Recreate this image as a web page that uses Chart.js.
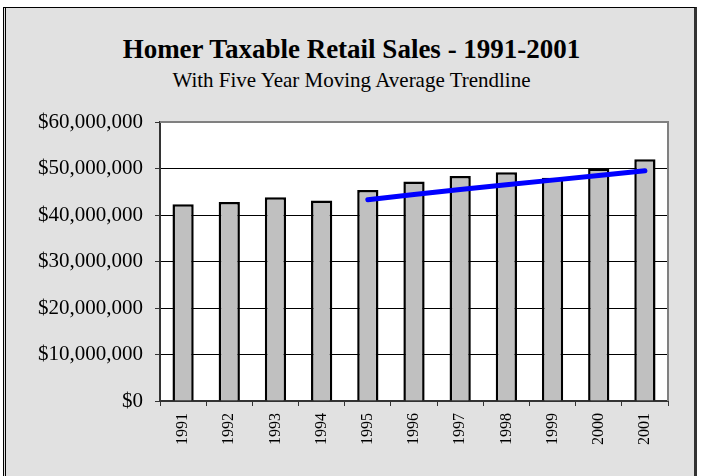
<!doctype html>
<html lang="en">
<head>
<meta charset="utf-8"/>
<title>Homer Taxable Retail Sales - 1991-2001</title>
<script src="https://cdn.jsdelivr.net/npm/chart.js@4.4.0/dist/chart.umd.min.js"></script>
<style>
  html,body{margin:0;padding:0;background:#fff;width:709px;height:476px;overflow:hidden}
  .box{position:absolute;left:3px;top:7px;width:694px;height:480px;background:#e1e1e1;
       border-top:1px solid #000;border-left:3px double #000;border-right:3px solid #333;box-sizing:border-box}
  .tit{position:absolute;left:3px;width:697px;text-align:center;font-family:'Liberation Serif','Times New Roman',serif;color:#000;white-space:nowrap}
  .t1{top:36px;font-size:27px;line-height:27px;font-weight:bold}
  .t2{top:70px;font-size:21px;line-height:21px}
  canvas{position:absolute;left:0;top:0}
</style>
</head>
<body>
<div class="box"></div>
<div class="tit t1">Homer Taxable Retail Sales - 1991-2001</div>
<div class="tit t2">With Five Year Moving Average Trendline</div>
<canvas id="c" width="709" height="476"></canvas>
<script>
  // years on the x axis
  const years = ['1991','1992','1993','1994','1995','1996','1997','1998','1999','2000','2001'];
  // taxable retail sales
  const sales = [42300000, 42800000, 43800000, 43100000, 45400000, 47200000, 48400000, 49200000, 48000000, 50000000, 52000000];
  // five year moving average (starts at 1995)
  const movingAvg = [null, null, null, null, 43300000, 44400000, 45500000, 46500000, 47500000, 48500000, 49500000];
  // y axis ticks
  const yMax = 60000000;
  const yStep = 10000000;

  const money = v => '$' + Number(v).toLocaleString('en-US');

  // white plot area + grey top/right frame
  const frame = {
    id: 'frame',
    beforeDraw(chart){
      const a = chart.chartArea, ctx = chart.ctx;
      ctx.save();
      ctx.fillStyle = '#fff';
      ctx.fillRect(a.left, a.top, a.right - a.left, a.bottom - a.top);
      ctx.restore();
    },
    afterDatasetsDraw(chart){
      const a = chart.chartArea, ctx = chart.ctx;
      ctx.save();
      ctx.strokeStyle = '#808080';
      ctx.lineWidth = 2;
      ctx.beginPath();
      ctx.moveTo(a.left, a.top);
      ctx.lineTo(a.right, a.top);
      ctx.lineTo(a.right, a.bottom);
      ctx.stroke();
      ctx.restore();
    }
  };

  new Chart(document.getElementById('c'), {
    type: 'bar',
    data: {
      labels: years,
      datasets: [
        { type:'line', label:'5 yr avg', data: movingAvg, borderColor:'#0000ff', borderWidth:5,
          pointRadius:0, fill:false, tension:0, borderCapStyle:'round', spanGaps:false, order:0 },
        { label:'Sales', data: sales, backgroundColor:'#c0c0c0', borderColor:'#000', borderWidth:2.5,
          borderSkipped:'bottom', barPercentage:0.46, categoryPercentage:1, order:1 }
      ]
    },
    options: {
      responsive:false,
      animation:false,
      layout:{ padding:{ left:0, right:41, top:122, bottom:0 } },
      plugins:{ legend:{display:false}, title:{display:false}, tooltip:{enabled:false} },
      scales:{
        x:{
          offset:true,
          grid:{ offset:true, drawOnChartArea:false, drawTicks:true, tickLength:5, color:'#333', lineWidth:1 },
          border:{ display:true, color:'#333', width:2 },
          ticks:{ minRotation:90, maxRotation:90, padding:7, color:'#000',
                  font:{ family:"'Liberation Serif','Times New Roman',serif", size:16 } },
          afterFit(s){ s.height = 75; }
        },
        y:{
          min:0, max:yMax,
          ticks:{ stepSize:yStep, padding:12, color:'#000', callback:v => money(v),
                  font:{ family:"'Liberation Serif','Times New Roman',serif", size:21 } },
          grid:{ drawTicks:true, tickLength:5, lineWidth:1,
                 color: c => c.tick.value === yMax ? 'rgba(0,0,0,0)' : '#000',
                 tickColor:'#333' },
          border:{ display:true, color:'#333', width:2 },
          afterFit(s){ s.width = 160; }
        }
      }
    },
    plugins:[frame]
  });
</script>
</body>
</html>
